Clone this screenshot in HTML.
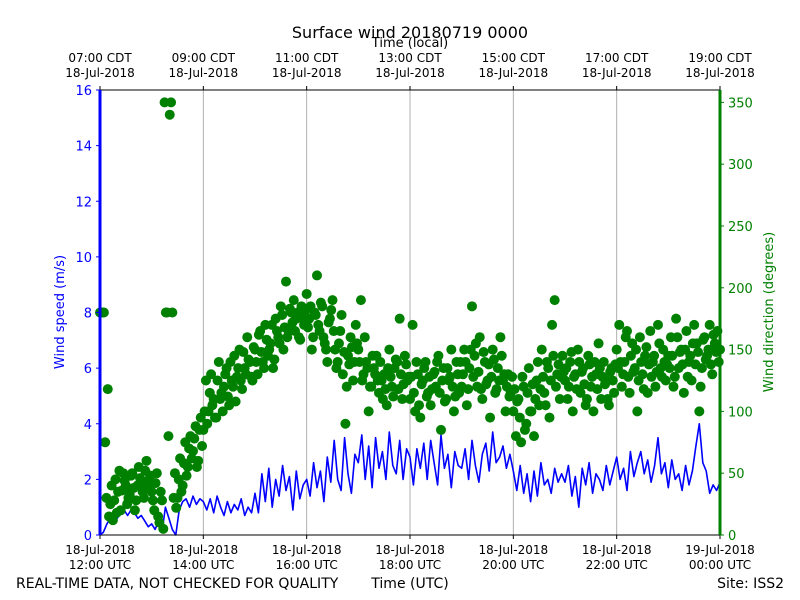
<!DOCTYPE html>
<html><head><meta charset="utf-8"><style>
html,body{margin:0;padding:0;background:#fff;}
svg{display:block;font-family:"DejaVu Sans","Liberation Sans",sans-serif;}
</style></head><body>
<svg id="chart" width="800" height="600" viewBox="0 0 800 600">
<rect width="800" height="600" fill="#fff"/>
<text x="410" y="38" font-size="16" text-anchor="middle">Surface wind 20180719 0000</text>
<text x="410" y="47" font-size="13" text-anchor="middle">Time (local)</text>
<g id="grid"></g>
<g id="speed"></g>
<g id="dir"></g>
<g id="axes"></g>
<text x="16" y="588" font-size="14">REAL-TIME DATA, NOT CHECKED FOR QUALITY</text>
<text x="410" y="588" font-size="14" text-anchor="middle">Time (UTC)</text>
<text x="784" y="588" font-size="14" text-anchor="end">Site: ISS2</text>
<text transform="translate(64,312) rotate(-90)" font-size="13" fill="#0000ff" text-anchor="middle">Wind speed (m/s)</text>
<text transform="translate(773,312) rotate(-90)" font-size="13" fill="#008000" text-anchor="middle">Wind direction (degrees)</text>
</svg>
<script>
const speedStepMin = 4;
const speedValues = [
0,0.1,0.4,0.6,0.9,0.6,0.8,0.9,0.7,0.9,0.8,0.6,0.7,0.5,0.3,
0.4,0.2,0.5,0.1,1.0,0.6,0.2,0.0,0.9,1.2,1.3,1.0,1.4,1.1,1.3,
1.2,0.9,1.3,0.8,1.4,1.0,0.7,1.2,0.8,1.1,0.9,1.3,0.7,1.0,0.8,
1.5,0.8,2.2,1.2,2.4,1.0,2.0,1.4,2.5,1.6,2.1,0.9,2.3,1.3,1.8,
2.0,1.4,2.6,1.7,2.3,1.2,2.8,1.9,3.4,2.0,1.6,3.5,2.2,1.5,2.9,
2.6,3.6,2.0,3.2,1.7,3.5,2.4,3.0,2.0,3.7,2.5,2.2,3.4,2.0,3.1,
2.8,1.8,3.1,2.4,3.3,2.0,3.4,2.6,1.8,3.6,2.4,2.9,1.7,3.0,2.5,
2.4,3.1,2.0,3.4,2.5,1.9,2.9,3.3,2.3,3.7,2.6,2.8,3.2,2.4,2.9,
2.3,1.6,2.5,1.5,2.2,1.2,2.3,1.4,2.6,1.8,2.0,1.5,2.4,1.9,2.2,
1.9,2.5,1.4,2.1,1.0,2.4,1.8,2.6,1.5,2.2,2.0,1.6,2.5,1.8,2.3,
2.8,2.0,2.4,1.6,3.0,2.1,2.6,3.0,2.2,2.7,1.9,2.5,3.5,2.2,2.6,
1.7,2.7,2.0,2.2,1.6,2.5,1.8,2.3,3.2,4.0,2.6,2.3,1.5,1.8,1.6,
1.9];
const dirStepMin = 3;
const dirValues = [
180,180,75,118,25,12,45,35,20,50,40,30,48,38,28,55,42,30,60,45,
35,20,50,10,28,350,180,340,180,50,30,62,40,75,55,80,68,88,60,95,
85,125,100,130,110,95,140,115,120,135,105,125,145,128,150,118,135,160,140,125,
150,130,165,140,170,145,155,135,175,160,185,150,205,165,180,190,175,160,185,170,
195,175,150,180,210,165,185,155,140,175,190,150,140,165,130,90,145,160,125,170,
150,190,130,140,100,120,135,145,115,125,130,105,150,120,135,140,175,110,145,125,
110,170,100,130,95,125,140,115,105,130,120,145,85,135,110,125,150,100,140,115,
120,150,105,135,185,145,120,160,110,140,125,95,150,115,135,160,125,100,130,115,
100,80,110,75,120,90,135,100,80,125,105,150,115,140,95,170,190,130,110,145,
125,110,140,100,130,150,115,135,105,145,120,100,130,155,110,140,125,105,135,115,
150,170,120,140,165,115,155,135,100,160,130,145,115,165,140,120,170,135,150,125,
145,160,120,175,135,150,115,165,140,125,170,155,100,135,160,145,170,130,155,165,
150];
const dirValuesB = [
180,180,30,15,40,28,18,52,36,44,25,33,50,20,40,46,35,52,38,48,
28,42,15,35,5,180,80,350,30,22,45,35,58,48,70,62,78,55,85,72,
100,90,115,105,95,125,110,100,130,112,140,120,108,135,125,148,130,142,128,152,
140,162,148,135,158,150,170,142,165,155,178,168,160,183,172,165,180,158,175,182,
168,185,160,178,170,188,160,150,172,182,165,135,155,178,148,120,138,152,140,155,
140,125,160,135,120,145,130,125,140,110,118,135,128,112,142,118,130,122,138,128,
128,115,140,105,122,135,112,128,118,132,140,115,125,108,135,128,120,112,130,140,
130,140,118,150,128,155,132,118,148,122,138,128,142,118,125,145,130,120,112,128,
118,108,95,128,85,115,100,122,110,140,118,128,105,135,125,145,120,138,128,132,
135,120,148,128,118,140,132,122,110,138,128,140,118,135,128,122,110,132,125,138,
135,140,130,160,128,145,132,150,125,140,118,152,138,128,145,132,155,128,140,138,
135,145,128,160,148,138,150,128,145,155,138,148,120,158,142,150,138,162,148,140];
const utcTicks = ["12:00 UTC","14:00 UTC","16:00 UTC","18:00 UTC","20:00 UTC","22:00 UTC","00:00 UTC"];
const utcDates = ["18-Jul-2018","18-Jul-2018","18-Jul-2018","18-Jul-2018","18-Jul-2018","18-Jul-2018","19-Jul-2018"];
const localTicks = ["07:00 CDT","09:00 CDT","11:00 CDT","13:00 CDT","15:00 CDT","17:00 CDT","19:00 CDT"];
const speedTicks = [0,2,4,6,8,10,12,14,16];
const dirTicks = [0,50,100,150,200,250,300,350];

const NS="http://www.w3.org/2000/svg";
const L=100,R=720,T=90,B=535;
const xMin=0,xMax=720;
const x=m=>L+(m-xMin)/(xMax-xMin)*(R-L);
const ys=v=>B-v/16*(B-T);
const yd=v=>B-v/360*(B-T);
function mk(tag,attrs,parent){const e=document.createElementNS(NS,tag);for(const k in attrs)e.setAttribute(k,attrs[k]);parent.appendChild(e);return e;}
const grid=document.getElementById('grid'),axes=document.getElementById('axes');
utcTicks.forEach((t,i)=>{
  const px=x(i*120);
  if(i>0&&i<utcTicks.length-1){const g=mk('line',{x1:px,x2:px,y1:T,y2:B,stroke:'#b0b0b0','stroke-width':1},grid);
  
  }
  mk('line',{x1:px,x2:px,y1:B,y2:B+4,stroke:'#000'},axes);
  mk('line',{x1:px,x2:px,y1:T,y2:T-4,stroke:'#000'},axes);
  const a=mk('text',{x:px,y:554,'font-size':12,'text-anchor':'middle'},axes);a.textContent=utcDates[i];
  
  
  const b=mk('text',{x:px,y:569,'font-size':12,'text-anchor':'middle'},axes);b.textContent=utcTicks[i];
  
  
  const c=mk('text',{x:px,y:62,'font-size':12,'text-anchor':'middle'},axes);c.textContent=localTicks[i];
  
  
  const d=mk('text',{x:px,y:77,'font-size':12,'text-anchor':'middle'},axes);d.textContent=utcDates[0];
  
  
});
speedTicks.forEach(v=>{const py=ys(v);
  mk('line',{x1:L-4,x2:L,y1:py,y2:py,stroke:'#0000ff'},axes);
  const t=mk('text',{x:L-8,y:py+5,'font-size':13,fill:'#0000ff','text-anchor':'end'},axes);t.textContent=v;
  
  });
dirTicks.forEach(v=>{const py=yd(v);
  mk('line',{x1:R,x2:R+4,y1:py,y2:py,stroke:'#008000'},axes);
  const t=mk('text',{x:R+8,y:py+5,'font-size':13,fill:'#008000'},axes);t.textContent=v;
  
  });
mk('line',{x1:L,x2:R,y1:T,y2:T,stroke:'#000'},axes);
mk('line',{x1:L,x2:R,y1:B,y2:B,stroke:'#000'},axes);
mk('line',{x1:L,x2:L,y1:T,y2:B,stroke:'#0000ff','stroke-width':3},axes);
mk('line',{x1:R,x2:R,y1:T,y2:B,stroke:'#008000','stroke-width':3},axes);
const pts=speedValues.map((v,i)=>x(i*speedStepMin).toFixed(1)+','+ys(v).toFixed(1)).join(' ');
const pl=mk('polyline',{points:pts,fill:'none',stroke:'#0000ff','stroke-width':1.6,'stroke-linejoin':'round'},document.getElementById('speed'));


const dg=document.getElementById('dir');
dirValues.forEach((v,i)=>{
  const c=mk('circle',{cx:x(i*dirStepMin),cy:yd(v),r:5,fill:'#008000'},dg);
  
  
});
dirValuesB.forEach((v,i)=>{
  const c=mk('circle',{cx:x(i*dirStepMin+1.5),cy:yd(v),r:5,fill:'#008000'},dg);
  
  
});
</script>
</body></html>
